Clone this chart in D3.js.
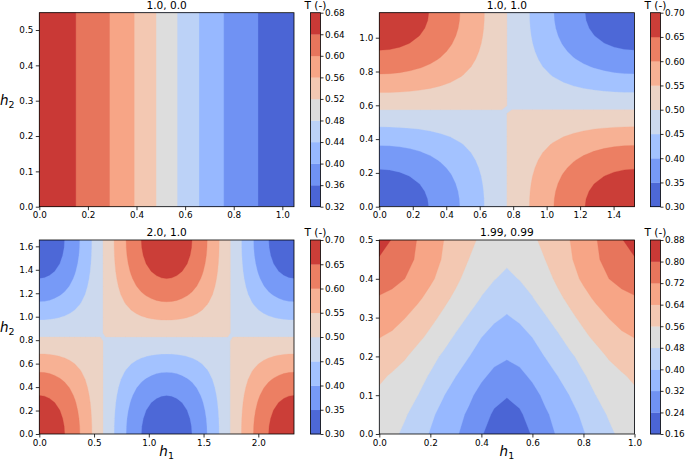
<!DOCTYPE html>
<html><head><meta charset="utf-8">
<script src="https://cdn.jsdelivr.net/npm/d3@7"></script>
<style>
body{margin:0;background:#fff}
svg{display:block}
text{font-family:"DejaVu Sans",sans-serif;fill:#000}
</style>
</head><body>
<svg id="chart" width="685" height="462"></svg>
<script>
// ---------------- DATA ----------------
const titles = ["1.0, 0.0", "1.0, 1.0", "2.0, 1.0", "1.99, 0.99"];
const cbTitle = "T (-)";

// contour levels = colorbar ticks
const levels1 = [0.32, 0.36, 0.40, 0.44, 0.48, 0.52, 0.56, 0.60, 0.64, 0.68];
const levels2 = [0.30, 0.35, 0.40, 0.45, 0.50, 0.55, 0.60, 0.65, 0.70];
const levels3 = [0.30, 0.35, 0.40, 0.45, 0.50, 0.55, 0.60, 0.65, 0.70];
const levels4 = [0.16, 0.24, 0.32, 0.40, 0.48, 0.56, 0.64, 0.72, 0.80, 0.88];

// axis extents [h1 max, h2 max]
const extent1 = [1.048, 0.549];
const extent2 = [1.525, 1.148];
const extent3 = [2.326, 1.654];
const extent4 = [1.0, 0.5];

// tick labels
const xticks1 = [0.0, 0.2, 0.4, 0.6, 0.8, 1.0];
const yticks1 = [0.0, 0.1, 0.2, 0.3, 0.4, 0.5];
const xticks2 = [0.0, 0.2, 0.4, 0.6, 0.8, 1.0, 1.2, 1.4];
const yticks2 = [0.0, 0.2, 0.4, 0.6, 0.8, 1.0];
const xticks3 = [0.0, 0.5, 1.0, 1.5, 2.0];
const yticks3 = [0.0, 0.2, 0.4, 0.6, 0.8, 1.0, 1.2, 1.4, 1.6];
const xticks4 = [0.0, 0.2, 0.4, 0.6, 0.8, 1.0];
const yticks4 = [0.0, 0.1, 0.2, 0.3, 0.4, 0.5];

// Panel 1: T depends on h1 only; samples at h1 = 0, 0.05, ..., 1.05
const T1_h1 = [0.655, 0.653, 0.648, 0.640, 0.628, 0.614, 0.596, 0.577, 0.556, 0.534, 0.511,
               0.488, 0.465, 0.443, 0.422, 0.403, 0.386, 0.372, 0.360, 0.352, 0.347, 0.345];

// Panel 2: separable field, T = 0.5 + amp2 * shape(h1) * shape(h2), 26 evenly spaced samples edge to edge
const amp2 = -0.183;
const shape2_h1 = [1.000, 0.992, 0.969, 0.930, 0.876, 0.809, 0.729, 0.637, 0.536, 0.426, 0.309, 0.187, 0.063,
                   -0.063, -0.187, -0.309, -0.426, -0.536, -0.637, -0.729, -0.809, -0.876, -0.930, -0.969, -0.992, -1.000];
const shape2_h2 = [1.000, 0.992, 0.969, 0.930, 0.876, 0.809, 0.729, 0.637, 0.536, 0.426, 0.309, 0.187, 0.063,
                   -0.063, -0.187, -0.309, -0.426, -0.536, -0.637, -0.729, -0.809, -0.876, -0.930, -0.969, -0.992, -1.000];

// Panel 3: separable field, T = 0.5 + amp3 * shape(h1) * shape(h2)
const amp3 = 0.185;
const shape3_h1 = [1.000, 0.992, 0.969, 0.930, 0.876, 0.809, 0.729, 0.637, 0.536, 0.426, 0.309, 0.187, 0.063,
                   -0.063, -0.187, -0.309, -0.426, -0.536, -0.637, -0.729, -0.809, -0.876, -0.930, -0.969, -0.992, -1.000,
                   -0.992, -0.969, -0.930, -0.876, -0.809, -0.729, -0.637, -0.536, -0.426, -0.309, -0.187, -0.063,
                   0.063, 0.187, 0.309, 0.426, 0.536, 0.637, 0.729, 0.809, 0.876, 0.930, 0.969, 0.992, 1.000];
const shape3_h2 = [1.000, 0.992, 0.969, 0.930, 0.876, 0.809, 0.729, 0.637, 0.536, 0.426, 0.309, 0.187, 0.063,
                   -0.063, -0.187, -0.309, -0.426, -0.536, -0.637, -0.729, -0.809, -0.876, -0.930, -0.969, -0.992, -1.000];

// Panel 4: grid of T, rows h2 = 0, 0.05, ..., 0.5 ; columns h1 = 0, 0.05, ..., 1.0
const T4 = [
 [0.510,0.497,0.465,0.430,0.395,0.362,0.329,0.289,0.246,0.205,0.180,0.205,0.246,0.289,0.329,0.362,0.395,0.430,0.465,0.497,0.510],
 [0.520,0.505,0.487,0.452,0.413,0.378,0.344,0.309,0.269,0.230,0.200,0.230,0.269,0.309,0.344,0.378,0.413,0.452,0.487,0.505,0.520],
 [0.545,0.535,0.510,0.481,0.442,0.404,0.366,0.335,0.296,0.262,0.246,0.262,0.296,0.335,0.366,0.404,0.442,0.481,0.510,0.535,0.545],
 [0.574,0.552,0.530,0.503,0.474,0.440,0.401,0.367,0.333,0.303,0.287,0.303,0.333,0.367,0.401,0.440,0.474,0.503,0.530,0.552,0.574],
 [0.608,0.594,0.567,0.533,0.501,0.470,0.437,0.402,0.369,0.341,0.327,0.341,0.369,0.402,0.437,0.470,0.501,0.533,0.567,0.594,0.608],
 [0.642,0.628,0.603,0.577,0.543,0.507,0.471,0.436,0.401,0.375,0.361,0.375,0.401,0.436,0.471,0.507,0.543,0.577,0.603,0.628,0.642],
 [0.678,0.665,0.642,0.612,0.580,0.545,0.508,0.474,0.442,0.411,0.394,0.411,0.442,0.474,0.508,0.545,0.580,0.612,0.642,0.665,0.678],
 [0.714,0.700,0.678,0.652,0.618,0.580,0.544,0.510,0.477,0.445,0.427,0.445,0.477,0.510,0.544,0.580,0.618,0.652,0.678,0.700,0.714],
 [0.754,0.742,0.720,0.685,0.652,0.615,0.575,0.535,0.505,0.483,0.463,0.483,0.505,0.535,0.575,0.615,0.652,0.685,0.720,0.742,0.754],
 [0.794,0.780,0.748,0.709,0.672,0.634,0.598,0.560,0.530,0.505,0.493,0.505,0.530,0.560,0.598,0.634,0.672,0.709,0.748,0.780,0.794],
 [0.835,0.796,0.757,0.717,0.680,0.642,0.608,0.575,0.550,0.533,0.526,0.533,0.550,0.575,0.608,0.642,0.680,0.717,0.757,0.796,0.835]
];

// coolwarm colormap anchors (Moreland)
const coolwarm = [[59,76,192],[68,90,204],[77,104,215],[87,117,225],[98,130,234],[108,142,241],[119,154,247],
 [130,165,251],[141,176,254],[152,185,255],[163,194,255],[174,201,253],[184,208,249],[194,213,244],[204,217,238],
 [213,219,230],[221,221,221],[229,216,209],[236,211,197],[241,204,185],[245,196,173],[247,187,160],[247,177,148],
 [247,166,135],[244,154,123],[241,141,111],[236,127,99],[229,112,88],[222,96,77],[213,80,66],[203,62,56],[192,40,47],[180,4,38]];

// ---------------- BUILD GRIDS ----------------
function cw(t) {
  const n = coolwarm.length - 1;
  const p = Math.max(0, Math.min(1, t)) * n;
  const i = Math.min(n - 1, Math.floor(p)), f = p - i;
  const a = coolwarm[i], b = coolwarm[i + 1];
  return `rgb(${Math.round(a[0]+(b[0]-a[0])*f)},${Math.round(a[1]+(b[1]-a[1])*f)},${Math.round(a[2]+(b[2]-a[2])*f)})`;
}
function separable(amp, sx, sy) {
  const v = [];
  sy.forEach(b => sx.forEach(a => v.push(0.5 + amp * a * b)));
  return v;
}
const grid1 = {values: [...T1_h1, ...T1_h1], nx: T1_h1.length, ny: 2, x0: 0, dx: 0.05, y0: 0, dy: extent1[1]};
const grid2 = {values: separable(amp2, shape2_h1, shape2_h2), nx: shape2_h1.length, ny: shape2_h2.length,
  x0: 0, dx: extent2[0] / (shape2_h1.length - 1), y0: 0, dy: extent2[1] / (shape2_h2.length - 1)};
const grid3 = {values: separable(amp3, shape3_h1, shape3_h2), nx: shape3_h1.length, ny: shape3_h2.length,
  x0: 0, dx: extent3[0] / (shape3_h1.length - 1), y0: 0, dy: extent3[1] / (shape3_h2.length - 1)};
const grid4 = {values: T4.flat(), nx: T4[0].length, ny: T4.length, x0: 0, dx: 0.05, y0: 0, dy: 0.05};

// detect d3.contours sample coordinate convention
const probe = d3.contours().size([2, 1]).thresholds([0.5])([0, 1]);
let minX = Infinity;
probe[0].coordinates.forEach(poly => poly.forEach(ring => ring.forEach(p => { if (p[0] < minX) minX = p[0]; })));
const off = minX - 0.5;

// ---------------- LAYOUT ----------------
const colL = {x0: 39.3, x1: 294.0, cb0: 310.5, cb1: 320.5};
const colR = {x0: 379.3, x1: 634.5, cb0: 650.5, cb1: 660.5};
const rowT = {y0: 12.7, y1: 206.7};
const rowB = {y0: 240.0, y1: 434.0};

const panels = [
  {title: titles[0], col: colL, row: rowT, ext: extent1, xt: xticks1, yt: yticks1, lv: levels1, g: grid1, ylab: true, xlab: false},
  {title: titles[1], col: colR, row: rowT, ext: extent2, xt: xticks2, yt: yticks2, lv: levels2, g: grid2, ylab: false, xlab: false},
  {title: titles[2], col: colL, row: rowB, ext: extent3, xt: xticks3, yt: yticks3, lv: levels3, g: grid3, ylab: true, xlab: true},
  {title: titles[3], col: colR, row: rowB, ext: extent4, xt: xticks4, yt: yticks4, lv: levels4, g: grid4, ylab: false, xlab: true}
];

const svg = d3.select("#chart");
const TICK_FS = 8.8, TITLE_FS = 10.6, LAB_FS = 13.5;

function styleAxis(g) {
  g.select(".domain").remove();
  g.selectAll(".tick line").attr("stroke", "#000").attr("stroke-width", 0.8);
  g.selectAll(".tick text").attr("font-family", '"DejaVu Sans",sans-serif').attr("font-size", TICK_FS).attr("fill", "#000");
}

panels.forEach((P, pi) => {
  const {col, row} = P;
  const xs = d3.scaleLinear().domain([0, P.ext[0]]).range([col.x0, col.x1]);
  const ys = d3.scaleLinear().domain([0, P.ext[1]]).range([row.y1, row.y0]);
  const n = P.lv.length - 1;
  const color = k => cw((k + 0.5) / n);

  const clipId = "clip" + pi;
  svg.append("clipPath").attr("id", clipId).append("rect")
    .attr("x", col.x0).attr("y", row.y0).attr("width", col.x1 - col.x0).attr("height", row.y1 - row.y0);

  const gp = svg.append("g").attr("clip-path", `url(#${clipId})`);
  gp.append("rect").attr("x", col.x0).attr("y", row.y0).attr("width", col.x1 - col.x0).attr("height", row.y1 - row.y0)
    .attr("fill", color(0));

  const G = P.g;
  const proj = d3.geoTransform({
    point: function(x, y) {
      this.stream.point(xs(G.x0 + (x - off) * G.dx), ys(G.y0 + (y - off) * G.dy));
    }
  });
  const path = d3.geoPath(proj);
  const conts = d3.contours().size([G.nx, G.ny]).thresholds(P.lv.slice(1, n))(G.values);
  conts.forEach((c, k) => {
    gp.append("path").attr("d", path(c)).attr("fill", color(k + 1)).attr("stroke", color(k + 1)).attr("stroke-width", 0.3);
  });

  // frame
  svg.append("rect").attr("x", col.x0).attr("y", row.y0).attr("width", col.x1 - col.x0).attr("height", row.y1 - row.y0)
    .attr("fill", "none").attr("stroke", "#000").attr("stroke-width", 0.8);

  // axes
  svg.append("g").attr("transform", `translate(0,${row.y1})`)
    .call(d3.axisBottom(xs).tickValues(P.xt).tickFormat(d3.format(".1f")).tickSize(3.5).tickPadding(2))
    .call(styleAxis);
  svg.append("g").attr("transform", `translate(${col.x0},0)`)
    .call(d3.axisLeft(ys).tickValues(P.yt).tickFormat(d3.format(".1f")).tickSize(3.5).tickPadding(2.5))
    .call(styleAxis);

  // title
  svg.append("text").attr("x", (col.x0 + col.x1) / 2).attr("y", row.y0 - 3.7)
    .attr("text-anchor", "middle").attr("font-size", TITLE_FS).text(P.title);

  // colorbar
  const cs = d3.scaleLinear().domain([P.lv[0], P.lv[n]]).range([row.y1, row.y0]);
  const gc = svg.append("g");
  for (let k = 0; k < n; k++) {
    gc.append("rect").attr("x", col.cb0).attr("width", col.cb1 - col.cb0)
      .attr("y", cs(P.lv[k + 1])).attr("height", cs(P.lv[k]) - cs(P.lv[k + 1]) + 0.3)
      .attr("fill", color(k));
  }
  gc.append("rect").attr("x", col.cb0).attr("y", row.y0).attr("width", col.cb1 - col.cb0).attr("height", row.y1 - row.y0)
    .attr("fill", "none").attr("stroke", "#000").attr("stroke-width", 0.8);
  svg.append("g").attr("transform", `translate(${col.cb1},0)`)
    .call(d3.axisRight(cs).tickValues(P.lv).tickFormat(d3.format(".2f")).tickSize(3).tickPadding(1.5))
    .call(styleAxis);
  svg.append("text").attr("x", (col.cb0 + col.cb1) / 2).attr("y", row.y0 - 4.2)
    .attr("text-anchor", "middle").attr("font-size", TITLE_FS).text(cbTitle);

  // axis labels
  if (P.ylab) {
    const t = svg.append("text").attr("x", 0).attr("y", (row.y0 + row.y1) / 2 - 5).attr("font-size", LAB_FS);
    t.append("tspan").attr("font-style", "italic").text("h");
    t.append("tspan").attr("font-size", LAB_FS * 0.7).attr("dy", 3).text("2");
  }
  if (P.xlab) {
    const t = svg.append("text").attr("x", (col.x0 + col.x1) / 2).attr("y", 456).attr("text-anchor", "middle").attr("font-size", LAB_FS);
    t.append("tspan").attr("font-style", "italic").text("h");
    t.append("tspan").attr("font-size", LAB_FS * 0.7).attr("dy", 3).text("1");
  }
});
</script>
</body></html>
